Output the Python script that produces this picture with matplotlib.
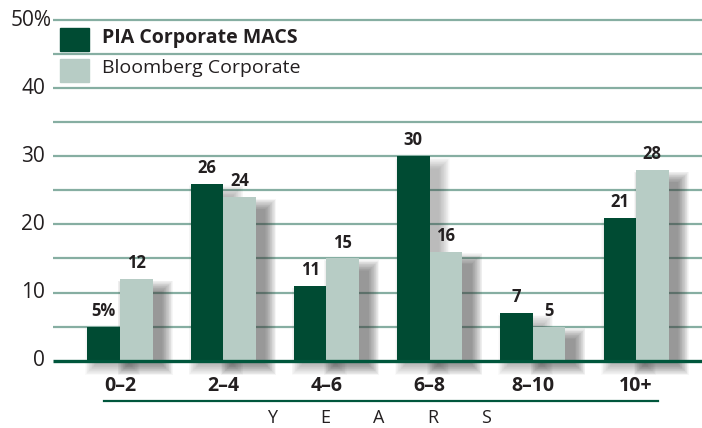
import matplotlib
matplotlib.use("Agg")
import matplotlib.pyplot as plt
from matplotlib.patches import Rectangle
import numpy as np

categories = ["0–2", "2–4", "4–6", "6–8", "8–10", "10+"]
pia = [5, 26, 11, 30, 7, 21]
bloomberg = [12, 24, 15, 16, 5, 28]
pia_labels = ["5%", "26", "11", "30", "7", "21"]
bloom_labels = ["12", "24", "15", "16", "5", "28"]
series_names = ["PIA Corporate MACS", "Bloomberg Corporate"]
yticks = [0, 10, 20, 30, 40, 50]
ytick_labels = ["0", "10", "20", "30", "40", "50%"]

DARK = "#004b33"
LIGHT = "#b7ccc5"
GRID = "#86aea2"
TEXT = "#231f20"
FONT = ["Liberation Sans Narrow", "Open Sans", "DejaVu Sans"]

W, H = 702, 428
fig = plt.figure(figsize=(W / 100, H / 100), dpi=100)
x_left_px, x_right_px = 53, 702
y0_px, y50_px = 360.7, 20.0
ppu = (y0_px - y50_px) / 50.0
ymin, ymax = -3.0, 51.0
bot_px = y0_px - ymin * ppu
top_px = y0_px - ymax * ppu
ax = fig.add_axes([x_left_px / W, 1 - bot_px / H, (x_right_px - x_left_px) / W, (bot_px - top_px) / H])
spacing_px = 103.2
cx0_px = 120.0
xmin = -(cx0_px - x_left_px) / spacing_px
xmax = xmin + (x_right_px - x_left_px) / spacing_px
ax.set_xlim(xmin, xmax)
ax.set_ylim(ymin, ymax)
ax.axis("off")

for g in range(5, 55, 5):
    ax.plot([xmin, xmax], [g, g], color=GRID, lw=1.6, zorder=1, solid_capstyle="butt")

bw = 32.5 / spacing_px
x = np.arange(len(categories))

# soft drop shadows
n = 16
for i in range(len(categories)):
    for left0, width0, top0, amul in ((x[i] - bw, bw, pia[i], 0.55), (x[i], bw, bloomberg[i], 1.0)):
        dx = 9 / spacing_px
        for k in range(n):
            gx = (k + 1) * 0.7 / spacing_px
            gy = (k + 1) * 0.7 / ppu
            bottom = -3 / ppu - gy
            topv = max(top0 - 13 / ppu + gy, 0.5)
            ax.add_patch(Rectangle((left0 + dx - gx, bottom), width0 + 2 * gx, topv - bottom,
                                   color="#404040", alpha=0.042 * amul, lw=0, zorder=2))

ax.bar(x - bw / 2, pia, width=bw, color=DARK, zorder=3, lw=0)
ax.bar(x + bw / 2, bloomberg, width=bw, color=LIGHT, zorder=3, lw=0)

ax.plot([xmin, xmax], [0, 0], color="#00563c", lw=2.4, zorder=4, solid_capstyle="butt")

for i in range(len(categories)):
    ax.text(x[i] - bw / 2, pia[i] + 1.0, pia_labels[i], ha="center", va="bottom",
            fontsize=12, fontweight="bold", color=TEXT, family=FONT, zorder=5)
    ax.text(x[i] + bw / 2, bloomberg[i] + 1.0, bloom_labels[i], ha="center", va="bottom",
            fontsize=12, fontweight="bold", color=TEXT, family=FONT, zorder=5)

for v, lab in zip(yticks, ytick_labels):
    xr = 52 if lab.endswith("%") else 45
    fig.text(xr / W, 1 - (y0_px - v * ppu) / H, lab, ha="right", va="center",
             fontsize=15, color=TEXT, family=FONT)

for i, c in enumerate(categories):
    fig.text((cx0_px + i * spacing_px) / W, 1 - 386 / H, c, ha="center", va="center",
             fontsize=14, fontweight="bold", color=TEXT, family=FONT)

fig.add_artist(plt.Line2D([104 / W, 658 / W], [1 - 400.7 / H, 1 - 400.7 / H],
                          color="#00563c", lw=1.6))
for j, ch in enumerate("YEARS"):
    fig.text((272 + j * 53.5) / W, 1 - 418 / H, ch, ha="center", va="center",
             fontsize=13, color=TEXT, family=FONT)

fig.add_artist(Rectangle((60 / W, 1 - 51 / H), 29 / W, 23 / H, color=DARK, transform=fig.transFigure))
fig.add_artist(Rectangle((60 / W, 1 - 82 / H), 29 / W, 23 / H, color=LIGHT, transform=fig.transFigure))
fig.text(102 / W, 1 - 38 / H, series_names[0], ha="left", va="center", fontsize=14,
         fontweight="bold", color=TEXT, family=FONT)
fig.text(102 / W, 1 - 68 / H, series_names[1], ha="left", va="center", fontsize=14,
         color=TEXT, family=FONT)

fig.savefig("out.png", dpi=100)
